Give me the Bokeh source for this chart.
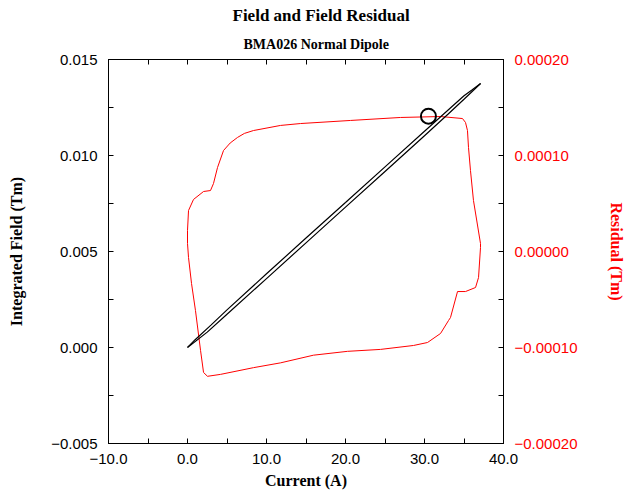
from bokeh.plotting import figure
from bokeh.models import Range1d, LinearAxis, FixedTicker, Title
from bokeh.embed import file_html
from bokeh.resources import INLINE

# ---- data ----
field_up_current = [0.0, 2.5, 5.0, 10.0, 15.0, 20.0, 25.0, 30.0, 33.0, 35.0, 37.1]
field_up = [0.0, 0.00080, 0.00173, 0.00359, 0.00545, 0.00731, 0.00917, 0.01103, 0.01216, 0.01293, 0.01375]
field_down_current = [37.1, 36.0, 35.0, 30.0, 25.0, 20.0, 15.0, 10.0, 5.0, 3.0, 1.0, 0.0]
field_down = [0.01375, 0.01341, 0.01311, 0.01126, 0.00941, 0.00755, 0.00570, 0.00384, 0.00196, 0.00118, 0.00042, 0.00001]

res_current = [0.0, 0.13, 0.51, 1.01, 1.65, 2.03, 2.53, 4.18, 8.35, 11.77, 15.95, 20.25, 24.43,
               28.61, 30.38, 32.03, 33.04, 33.29, 34.18, 35.19, 36.46, 36.84, 37.09, 37.09,
               36.20, 35.82, 35.57, 35.44, 35.19, 34.81, 32.03, 26.96, 20.63, 14.30, 11.77,
               8.35, 7.2, 6.33, 5.4, 4.56, 3.80, 3.29, 2.91, 2.03, 0.76, 0.13, 0.0, 0.0]
res_value = [0.0000083, -0.0000063, -0.0000333, -0.0000615, -0.000103, -0.000126, -0.000130,
             -0.000128, -0.000121, -0.000116, -0.000108, -0.000104, -0.000102, -0.0000979,
             -0.0000948, -0.0000854, -0.0000719, -0.0000688, -0.0000417, -0.0000417, -0.0000375,
             -0.0000271, 0.0000042, 0.0000083, 0.0000531, 0.0000844, 0.0001083, 0.000126,
             0.0001344, 0.0001385, 0.0001406, 0.0001396, 0.0001365, 0.0001333, 0.0001313,
             0.000126, 0.000123, 0.0001188, 0.000113, 0.0001052, 0.0000875, 0.0000708,
             0.0000635, 0.0000625, 0.0000542, 0.0000427, 0.000022, 0.0000083]

marker_current = [30.5]
marker_residual = [0.000141]

x_ticks = [-10, 0, 10, 20, 30, 40]
x_tick_labels = ["\u221210.0", "0.0", "10.0", "20.0", "30.0", "40.0"]
x_minor = [-5, 5, 15, 25, 35]
y_ticks = [-0.005, 0.0, 0.005, 0.01, 0.015]
y_tick_labels = ["\u22120.005", "0.000", "0.005", "0.010", "0.015"]
y_minor = [-0.0025, 0.0025, 0.0075, 0.0125]
r_ticks = [-0.0002, -0.0001, 0.0, 0.0001, 0.0002]
r_tick_labels = ["\u22120.00020", "\u22120.00010", "0.00000", "0.00010", "0.00020"]
r_minor = [-0.00015, -0.00005, 0.00005, 0.00015]

SERIF = "Liberation Serif"
SANS = "Liberation Sans"
RED = "#ff0000"

p = figure(frame_width=395, frame_height=384,
           min_border_left=108, min_border_right=121, min_border_top=59, min_border_bottom=50,
           x_range=Range1d(-10, 40), y_range=Range1d(-0.005, 0.015),
           toolbar_location=None, output_backend="svg")
p.extra_y_ranges = {"res": Range1d(-0.0002, 0.0002)}
p.grid.visible = False
p.outline_line_color = "black"
p.outline_line_width = 1
p.background_fill_color = "white"
p.border_fill_color = "white"

def style(ax, ticks, minor, labels, label_color="black"):
    ax.ticker = FixedTicker(ticks=ticks, minor_ticks=minor)
    ax.major_label_overrides = dict(zip(ticks, labels))
    ax.major_tick_in = 5
    ax.major_tick_out = 0
    ax.minor_tick_in = 5
    ax.minor_tick_out = 0
    ax.axis_line_color = "black"
    ax.major_tick_line_color = "black"
    ax.minor_tick_line_color = "black"
    ax.major_label_text_font = SANS
    ax.major_label_text_font_size = "15px"
    ax.major_label_text_color = label_color
    ax.axis_label_text_font = SERIF
    ax.axis_label_text_font_style = "bold"
    ax.axis_label_text_font_size = "16px"
    ax.axis_label_text_color = label_color

xa = p.xaxis[0]
style(xa, x_ticks, x_minor, x_tick_labels)
xa.axis_label = "Current (A)"
xa.major_label_standoff = 10
xa.axis_label_standoff = 5

ya = p.yaxis[0]
style(ya, y_ticks, y_minor, y_tick_labels)
ya.axis_label = "Integrated Field (Tm)"
ya.major_label_standoff = 11
ya.axis_label_standoff = 23

ra = LinearAxis(y_range_name="res")
style(ra, r_ticks, r_minor, r_tick_labels, label_color=RED)
ra.axis_label = "Residual (Tm)"
ra.major_label_standoff = 11
ra.axis_label_standoff = 28
p.add_layout(ra, "right")

ta = LinearAxis()
style(ta, x_ticks, x_minor, ["" for _ in x_ticks])
ta.major_label_text_font_size = "0px"
ta.major_label_standoff = 0
p.add_layout(ta, "above")

p.add_layout(Title(text="BMA026 Normal Dipole", align="left", text_font=SERIF,
                   text_font_style="bold", text_font_size="14px", text_color="black",
                   standoff=15, offset=135), "above")
p.add_layout(Title(text="Field and Field Residual", align="left", text_font=SERIF,
                   text_font_style="bold", text_font_size="17px", text_color="black",
                   standoff=6, offset=124), "above")

p.line(res_current, res_value, y_range_name="res", line_color=RED, line_width=1)
p.line(field_up_current, field_up, line_color="black", line_width=1.2)
p.line(field_down_current, field_down, line_color="black", line_width=1.2)
p.scatter(marker_current, marker_residual, y_range_name="res", marker="circle", size=15,
          fill_color=None, line_color="black", line_width=2)

open("out.html", "w").write(file_html(p, INLINE))
